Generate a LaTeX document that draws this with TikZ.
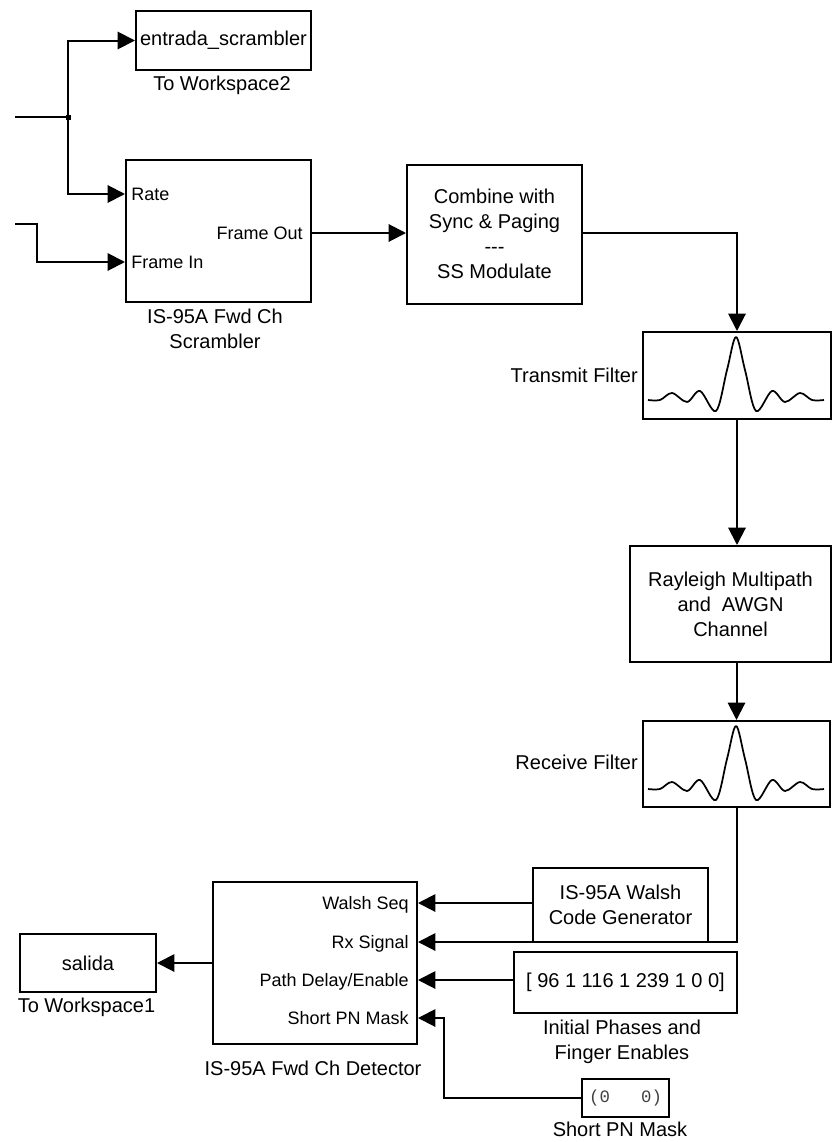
\documentclass[tikz,border=0pt]{standalone}
\usepackage{fontspec}
\setmainfont{Liberation Sans}
\newfontfamily\pnmono{Liberation Mono}
\usetikzlibrary{arrows.meta}
\begin{document}
\begin{tikzpicture}[x=0.75pt, y=-0.75pt,
  every node/.style={font=\fontsize{15}{18.75}\selectfont, inner sep=0pt},
  blk/.style 2 args={draw, line width=1.5pt, minimum width=#1*0.75pt,
    minimum height=#2*0.75pt, align=center},
  lbl/.style={anchor=north, align=center},
  portL/.style={anchor=west, inner xsep=4.5pt, text height=9.7pt, text depth=0pt,
    font=\fontsize{13.5}{16}\selectfont},
  portR/.style={anchor=east, inner xsep=6.75pt, text height=9.7pt, text depth=0pt,
    font=\fontsize{13.5}{16}\selectfont},
  wire/.style={line width=1.5pt},
  arr/.style={wire, -{Triangle[length=13pt,width=13pt]}},
  sincwave/.pic={
    \draw[line width=1.3pt, line join=round]
      plot[smooth, tension=0.55] coordinates {
        (-88,0) (-76,0) (-64,-7) (-49,2) (-36,-9) (-20,11) (-9,-30) (0,-63)
        (9,-30) (20,11) (36,-9) (49,2) (64,-7) (76,0) (88,0)};
  }
]
\useasboundingbox (0,0) rectangle (832,1142);

% ---- workspace logger of the scrambler input
\node[blk={175}{59}] (tows2) at (223.5,40.5) {entrada\_scrambler};
\node[lbl] (tows2lab) at (222,76) {To Workspace2};

% ---- scrambler
\node[blk={185}{142}] (scr) at (218.5,231) {};
\node[portL] (prate) at (scr.west |- 0,194) {Rate};
\node[portL] (pfin)  at (scr.west |- 0,262) {Frame In};
\node[portR] (pfout) at (scr.east |- 0,233) {Frame Out};
\node[lbl] (scrlab) at (215,309) {IS-95A Fwd Ch\\Scrambler};

% ---- combiner / spreader
\node[blk={175}{139}] (comb) at (494.5,234)
  {Combine with\\Sync \& Paging\\-{}-{}-\\SS Modulate};

% ---- transmit filter
\node[blk={188}{87}] (txf) at (737,375.5) {};
\node[anchor=east] (txlab) at (638,375) {Transmit Filter};
\pic at (736,400) {sincwave};

% ---- channel
\node[blk={201}{116}] (chan) at (730.5,604)
  {Rayleigh Multipath\\and~~AWGN\\Channel};

% ---- receive filter
\node[blk={187}{86}] (rxf) at (736.5,764) {};
\node[anchor=east] (rxlab) at (638,762) {Receive Filter};
\pic at (736,789) {sincwave};

% ---- Walsh code generator
\node[blk={175}{74}] (walsh) at (620.5,905) {IS-95A Walsh\\Code Generator};

% ---- detector
\node[blk={204}{162}] (det) at (315,963) {};
\node[portR] (pwalsh) at (det.east |- 0,903)  {Walsh Seq};
\node[portR] (prx)    at (det.east |- 0,942)  {Rx Signal};
\node[portR] (ppath)  at (det.east |- 0,980)  {Path Delay/Enable};
\node[portR] (ppn)    at (det.east |- 0,1018) {Short PN Mask};
\node[lbl] (detlab) at (313,1061) {IS-95A Fwd Ch Detector};

% ---- output logger
\node[blk={136}{58}] (salida) at (88,963) {salida};
\node[lbl] (salidalab) at (86.5,998) {To Workspace1};

% ---- constants
\node[blk={223}{61}] (phases) at (625.5,982.5) {[ 96 1 116 1 239 1 0 0]};
\node[lbl] (phaseslab) at (622,1020) {Initial Phases and\\Finger Enables};

\node[blk={87}{38}] (pnmask) at (625.5,1098)
  {\pnmono\fontsize{13}{15}\selectfont\color{black!75}(0\ \ \ 0)};
\node[lbl] (pnlab) at (620,1122) {Short PN Mask};

% ---- connectors
\coordinate (in1) at (15,117);
\coordinate (jn)  at (68,117);
\coordinate (in2) at (15,224);
\draw[wire] (in1) -- (jn);
\fill (jn) +(-2,-2.5) rectangle +(3,2.5);
\draw[arr] (jn) |- (tows2.west);
\draw[arr] (jn) |- (prate.west);
\draw[arr] (in2) -- ++(22,0) |- (pfin.west);
\draw[arr] (pfout.east) -- (pfout.east -| comb.west);
\draw[arr] (pfout.east -| comb.east) -| (txf.north);
\draw[arr] (txf.south) -- (txf.south |- chan.north);
\draw[arr] (rxf.north |- chan.south) -- (rxf.north);
\draw[arr] (rxf.south) |- (prx.east);
\draw[arr] (pwalsh.east -| walsh.west) -- (pwalsh.east);
\draw[arr] (ppath.east -| phases.west) -- (ppath.east);
\draw[arr] (pnmask.west) -- ++(-137,0) |- (ppn.east);
\draw[arr] (det.west) -- (salida.east);
\end{tikzpicture}
\end{document}
